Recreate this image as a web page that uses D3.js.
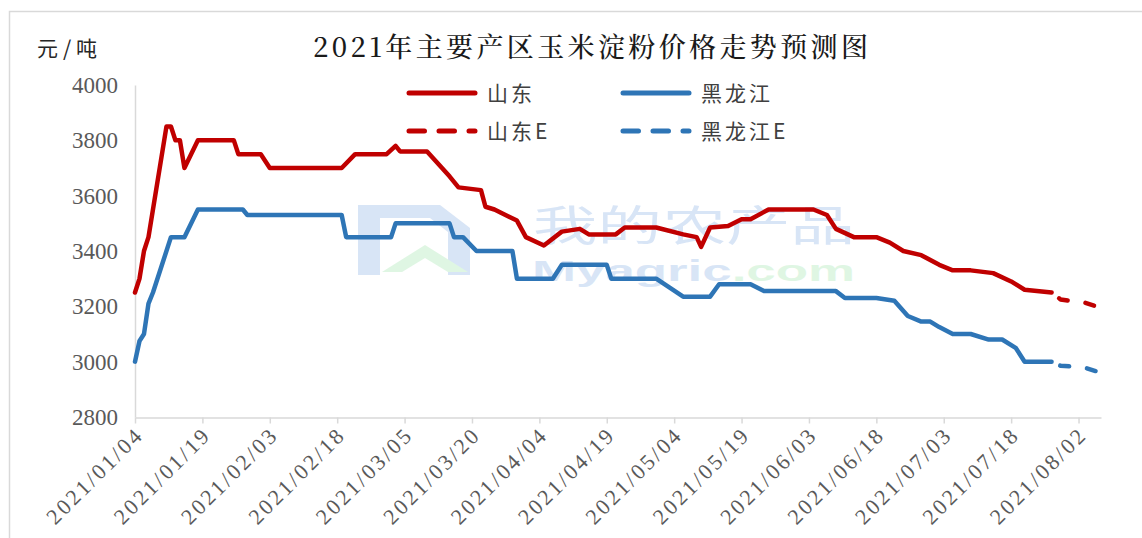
<!DOCTYPE html>
<html><head><meta charset="utf-8">
<script src="https://cdn.jsdelivr.net/npm/d3@7/dist/d3.min.js"></script>
<style>
html,body{margin:0;padding:0;background:#fff;}
svg{display:block;}
</style></head>
<body>
<svg id="chart" width="1142" height="538"></svg>
<script>
// ---------- data ----------
const titleText = "2021年主要产区玉米淀粉价格走势预测图";
const unitText = "元/吨";
const seriesNames = ["山东", "黑龙江", "山东E", "黑龙江E"];
const yTicks = [2800, 3000, 3200, 3400, 3600, 3800, 4000];
const xTickLabels = ["2021/01/04","2021/01/19","2021/02/03","2021/02/18","2021/03/05","2021/03/20",
  "2021/04/04","2021/04/19","2021/05/04","2021/05/19","2021/06/03","2021/06/18","2021/07/03","2021/07/18","2021/08/02"];

const shandong = [
  ["2021-01-04",3250],["2021-01-05",3300],["2021-01-06",3400],["2021-01-07",3450],["2021-01-11",3850],
  ["2021-01-12",3850],["2021-01-13",3800],["2021-01-14",3800],["2021-01-15",3700],["2021-01-18",3800],
  ["2021-01-26",3800],["2021-01-27",3750],["2021-02-01",3750],["2021-02-03",3700],["2021-02-19",3700],
  ["2021-02-22",3750],["2021-03-01",3750],["2021-03-03",3780],["2021-03-04",3760],["2021-03-10",3760],
  ["2021-03-15",3670],["2021-03-17",3630],["2021-03-22",3620],["2021-03-23",3560],["2021-03-25",3550],
  ["2021-03-30",3510],["2021-04-01",3450],["2021-04-05",3420],["2021-04-09",3470],["2021-04-13",3480],
  ["2021-04-15",3460],["2021-04-21",3460],["2021-04-23",3485],["2021-04-30",3485],["2021-05-06",3460],
  ["2021-05-09",3450],["2021-05-10",3415],["2021-05-12",3485],["2021-05-16",3490],["2021-05-19",3515],
  ["2021-05-21",3515],["2021-05-25",3550],["2021-06-04",3550],["2021-06-07",3530],["2021-06-09",3480],
  ["2021-06-13",3450],["2021-06-18",3450],["2021-06-21",3430],["2021-06-24",3400],["2021-06-28",3385],
  ["2021-07-02",3350],["2021-07-05",3330],["2021-07-09",3330],["2021-07-14",3320],["2021-07-18",3290],
  ["2021-07-21",3260],["2021-07-27",3250]
];
const heilongjiang = [
  ["2021-01-04",3000],["2021-01-05",3075],["2021-01-06",3100],["2021-01-07",3210],["2021-01-08",3250],
  ["2021-01-12",3450],["2021-01-15",3450],["2021-01-18",3550],["2021-01-28",3550],["2021-01-29",3530],
  ["2021-02-19",3530],["2021-02-20",3450],["2021-03-02",3450],["2021-03-03",3500],["2021-03-15",3500],
  ["2021-03-16",3450],["2021-03-18",3450],["2021-03-21",3400],["2021-03-29",3400],["2021-03-30",3300],
  ["2021-04-07",3300],["2021-04-09",3350],["2021-04-19",3350],["2021-04-20",3300],["2021-04-30",3300],
  ["2021-05-06",3235],["2021-05-12",3235],["2021-05-14",3280],["2021-05-21",3280],["2021-05-24",3255],
  ["2021-06-09",3255],["2021-06-11",3230],["2021-06-18",3230],["2021-06-22",3220],["2021-06-25",3165],
  ["2021-06-28",3145],["2021-06-30",3145],["2021-07-02",3125],["2021-07-05",3100],["2021-07-09",3100],
  ["2021-07-13",3080],["2021-07-16",3080],["2021-07-19",3050],["2021-07-21",3000],["2021-07-27",3000]
];
const shandongE = [["2021-07-27",3250],["2021-07-29",3225],["2021-07-31",3220],["2021-08-03",3215],["2021-08-06",3200]];
const heilongjiangE = [["2021-07-27",3000],["2021-07-29",2985],["2021-08-03",2980],["2021-08-06",2965]];
const xDomain = ["2021-01-04","2021-08-07"];
const watermarkTexts = ["我的农产品", "Myagric", ".com"];

// ---------- drawing ----------
const RED = "#C00000", BLUE = "#2E75B6";
const parse = d3.timeParse("%Y-%m-%d");
const parseTick = d3.timeParse("%Y/%m/%d");
const svg = d3.select("#chart");

// outer border
svg.append("path").attr("d","M9.5,538 V11.5 H1142").attr("fill","none").attr("stroke","#d9d9d9").attr("stroke-width",1.5);

const x = d3.scaleTime().domain(xDomain.map(parse)).range([135, 1101]);
const y = d3.scaleLinear().domain([2800, 4000]).range([417, 85]);

// watermark
const wm = svg.append("g").attr("opacity",0.8);
wm.append("path").attr("d","M358,205 H440 L470,228 V275 H448 V232 L430,218 H380 V275 H358 Z").attr("fill","#cfdff5");
wm.append("path").attr("d","M382,272 L425,245 L468,272 H448 L425,258 L402,272 Z").attr("fill","#d8f5dd");
wm.append("text").attr("x",533).attr("y",241).attr("font-family","'Noto Sans CJK SC'").attr("font-size",42)
  .attr("textLength",322).attr("lengthAdjust","spacingAndGlyphs").attr("fill","#cfdff5").text(watermarkTexts[0]);
const wt = wm.append("text").attr("x",532).attr("y",281).attr("font-family","'Liberation Sans',Arial").attr("font-size",29).attr("font-weight","bold")
  .attr("textLength",323).attr("lengthAdjust","spacingAndGlyphs");
wt.append("tspan").attr("fill","#cfdff5").text(watermarkTexts[1]);
wt.append("tspan").attr("fill","#d8f5dd").text(watermarkTexts[2]);

// axes
const yAxis = d3.axisLeft(y).tickValues(yTicks).tickSize(0).tickPadding(17).tickFormat(d3.format("d"));
const gy = svg.append("g").attr("transform","translate(135,0)").call(yAxis);
gy.select(".domain").attr("stroke","#d9d9d9").attr("stroke-width",1.5);
gy.selectAll("text").attr("font-family","'Liberation Serif','Times New Roman',serif").attr("font-size",23).attr("fill","#595959");

const xAxis = d3.axisBottom(x).tickValues(xTickLabels.map(parseTick)).tickSize(6).tickSizeOuter(0).tickFormat(d3.timeFormat("%Y/%m/%d"));
const gx = svg.append("g").attr("transform","translate(0,417.5)").call(xAxis);
gx.select(".domain").attr("stroke","#d9d9d9").attr("stroke-width",1.5);
gx.selectAll(".tick line").attr("stroke","#d9d9d9").attr("stroke-width",1.5);
gx.selectAll(".tick text")
  .attr("font-family","'Liberation Serif','Times New Roman',serif").attr("font-size",22).attr("fill","#595959")
  .attr("text-anchor","end").attr("y",0).attr("dy","0.35em")
  .attr("textLength",124).attr("lengthAdjust","spacing")
  .attr("transform","translate(2,15) rotate(-45)");

// lines
const line = d3.line().x(d => x(parse(d[0]))).y(d => y(d[1]));
function drawLine(data, color, dashed){
  const p = svg.append("path").attr("d", line(data)).attr("fill","none").attr("stroke",color)
    .attr("stroke-width",4.5).attr("stroke-linejoin","round").attr("stroke-linecap","round");
  if(dashed) p.attr("stroke-dasharray","9 18").attr("stroke-dashoffset",-9.5);
}
drawLine(shandong, RED, false);
drawLine(heilongjiang, BLUE, false);
drawLine(shandongE, RED, true);
drawLine(heilongjiangE, BLUE, true);

// title & unit
svg.append("text").attr("x",313).attr("y",57).attr("font-family","'Noto Serif CJK SC','Noto Sans CJK SC',serif")
  .attr("font-size",27).attr("font-weight",500).attr("fill","#1a1a1a")
  .attr("textLength",555).attr("lengthAdjust","spacing").text(titleText);
svg.append("text").attr("x",37).attr("y",56).attr("font-family","'Noto Sans CJK SC',sans-serif")
  .attr("font-size",21).attr("fill","#262626").attr("textLength",60).attr("lengthAdjust","spacing").text(unitText);

// legend
const legend = [
  {name: seriesNames[0], color: RED, dashed: false, lx: 409, ly: 93},
  {name: seriesNames[1], color: BLUE, dashed: false, lx: 623, ly: 93},
  {name: seriesNames[2], color: RED, dashed: true, lx: 409, ly: 131},
  {name: seriesNames[3], color: BLUE, dashed: true, lx: 623, ly: 131}
];
legend.forEach(l => {
  const p = svg.append("line").attr("x1",l.lx).attr("x2",l.lx+66).attr("y1",l.ly).attr("y2",l.ly)
    .attr("stroke",l.color).attr("stroke-width",5).attr("stroke-linecap","round");
  if(l.dashed) p.attr("stroke-dasharray","15.5 14.5");
  svg.append("text").attr("x",l.lx+78).attr("y",l.ly).attr("dy","0.36em")
    .attr("font-family","'Noto Sans CJK SC',sans-serif").attr("font-size",21).attr("fill","#404040")
    .attr("letter-spacing",3).text(l.name);
});
</script>
</body></html>
